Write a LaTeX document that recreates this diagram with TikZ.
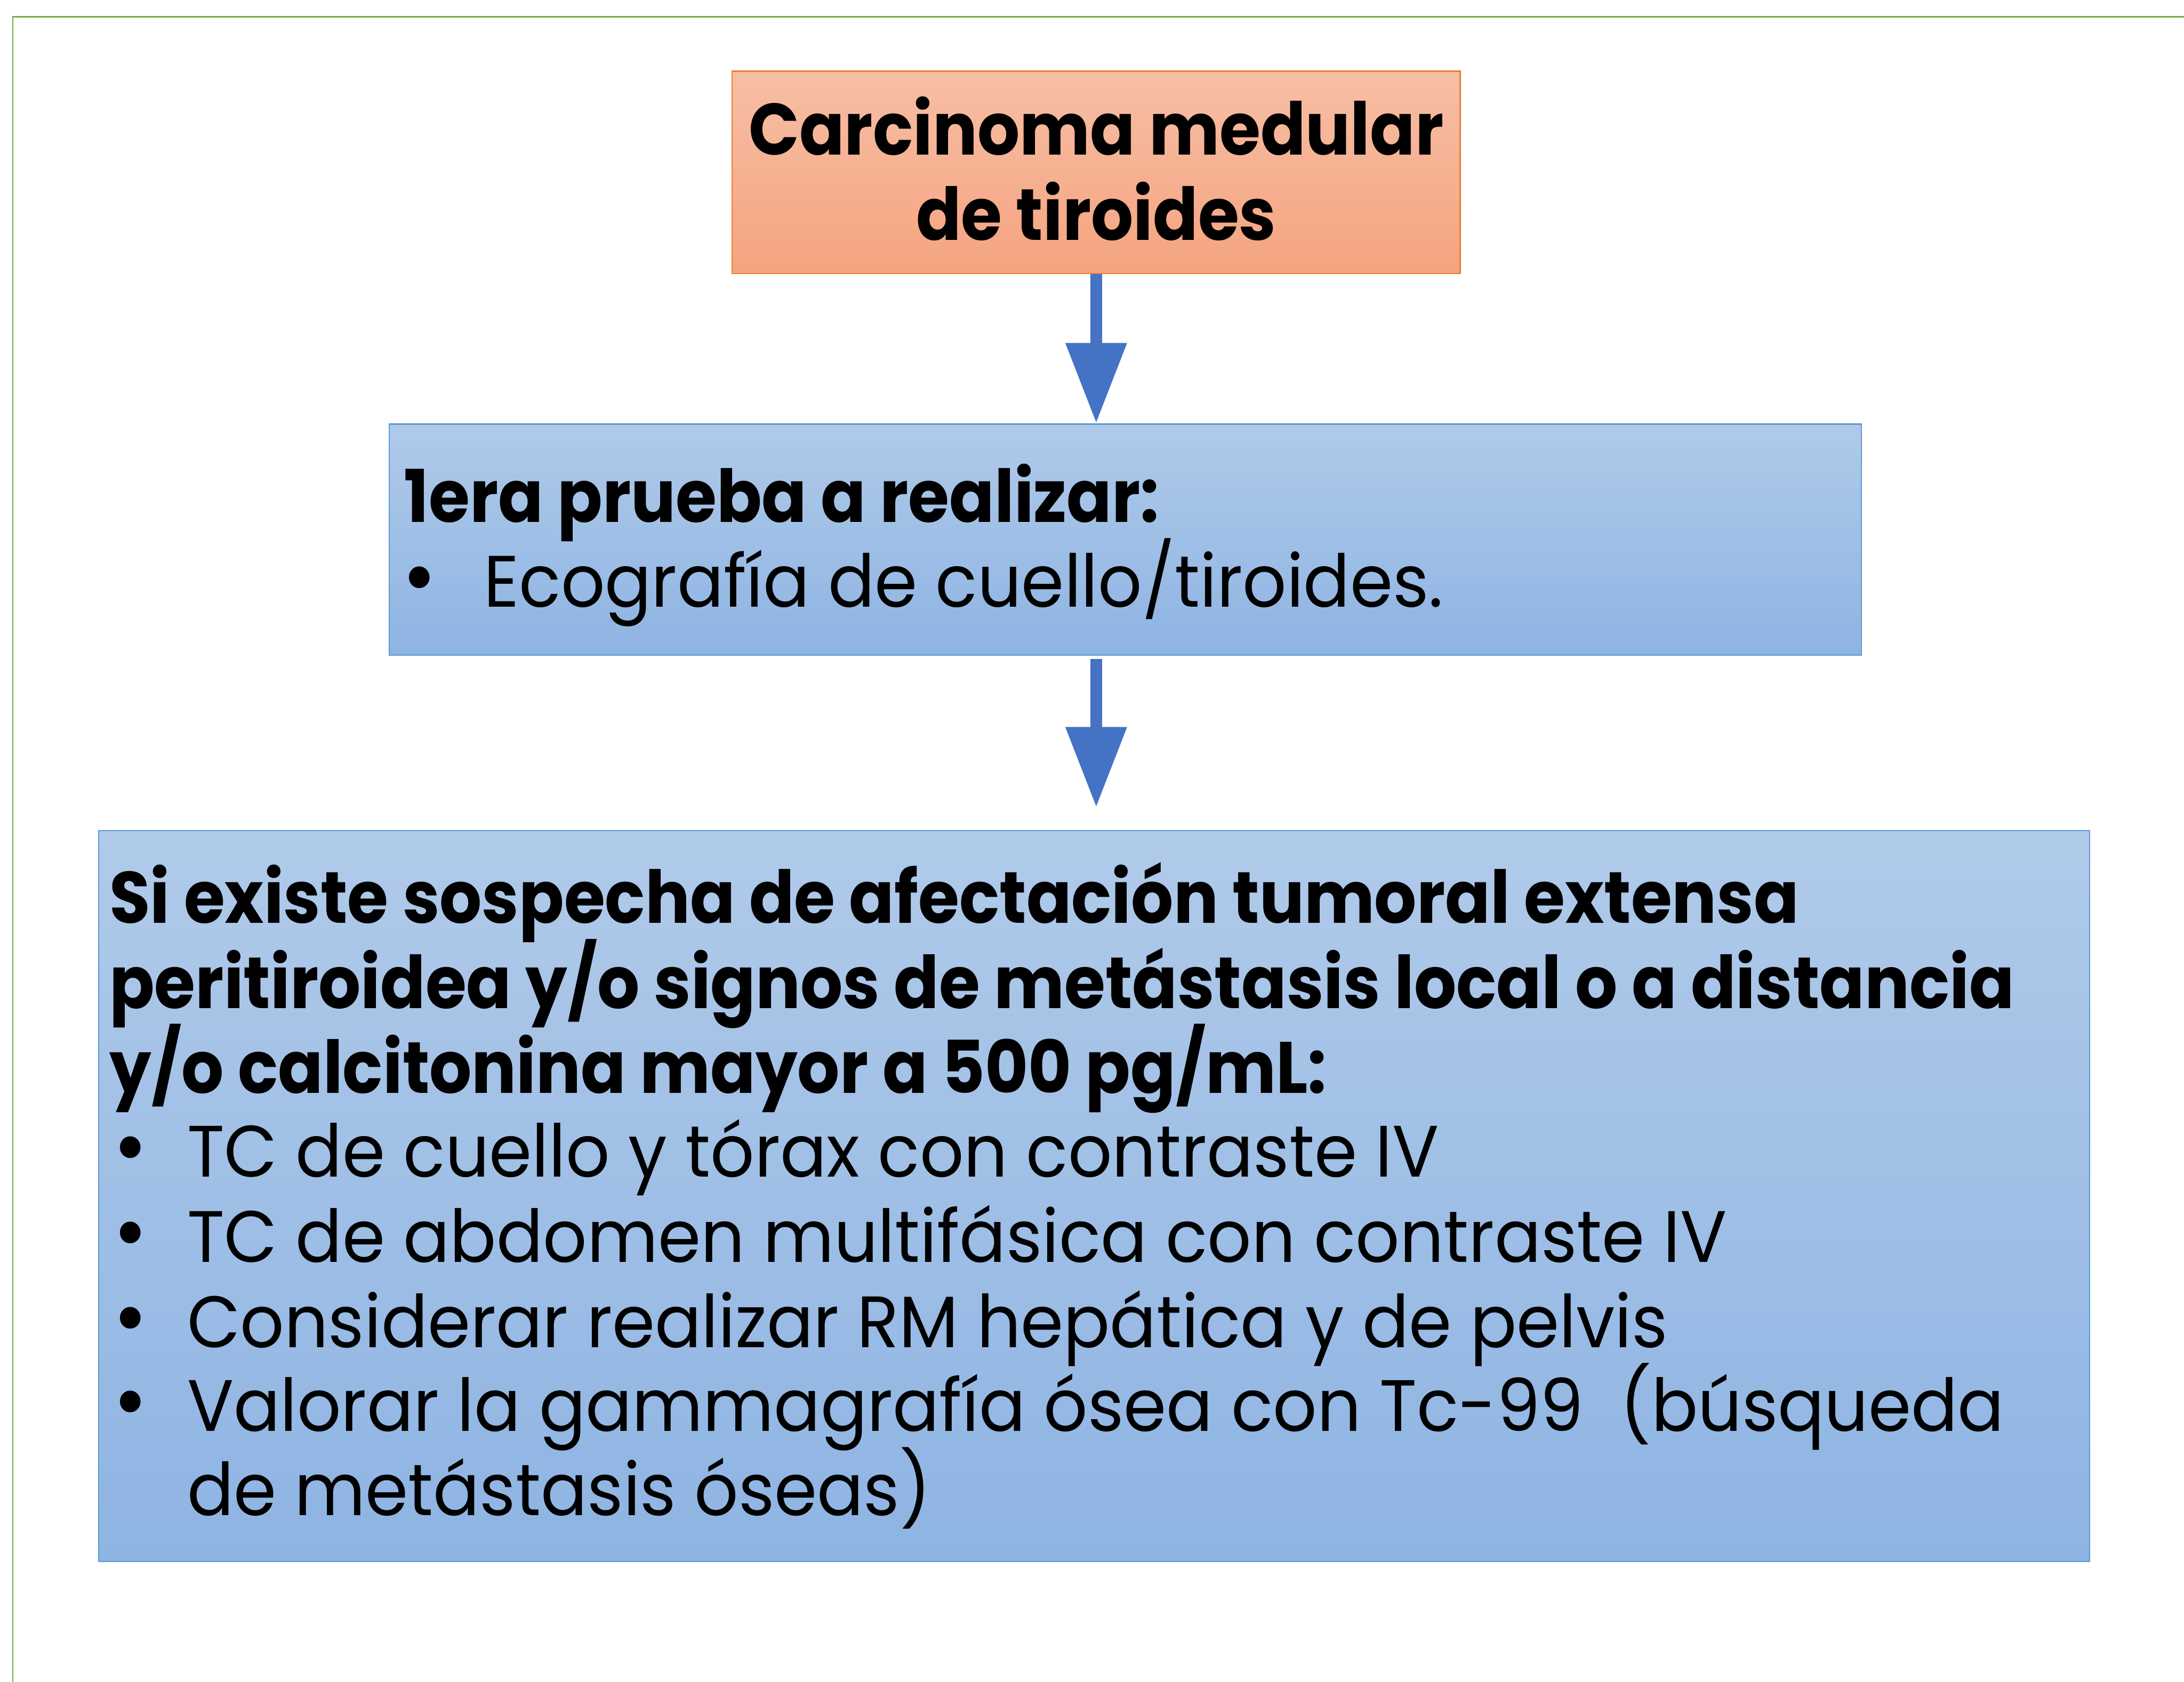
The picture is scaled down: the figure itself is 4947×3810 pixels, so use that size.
\documentclass[tikz,border=0pt]{standalone}
\usepackage{fontspec}
\setmainfont{Poppins}[FakeStretch=0.945, BoldFeatures={FakeStretch=0.912}]
\usetikzlibrary{arrows.meta}
\definecolor{grn}{HTML}{70AD47}
\definecolor{orfillA}{HTML}{F7BEA5}
\definecolor{orfillB}{HTML}{F5A47F}
\definecolor{ordraw}{HTML}{ED7D31}
\definecolor{blfillA}{HTML}{B0CAE9}
\definecolor{blfillB}{HTML}{8EB4E3}
\definecolor{bldraw}{HTML}{5B9BD5}
\definecolor{arrowblue}{HTML}{4472C4}
\begin{document}
\begin{tikzpicture}[x=0.1pt,y=-0.1pt,
  txt/.style={inner sep=0pt, anchor=base west, font=\fontsize{16.5}{19.2}\selectfont},
  btxt/.style={txt, font=\fontsize{16.5}{19.2}\selectfont\bfseries},
  ctxt/.style={btxt, anchor=base},
  bul/.style={inner sep=0pt, anchor=base, font=\fontsize{20}{20}\selectfont},
  obox/.style={rectangle, draw=ordraw, line width=0.3pt, top color=orfillA, bottom color=orfillB, inner sep=0pt, anchor=north west},
  bbox/.style={rectangle, draw=bldraw, line width=0.3pt, top color=blfillA, bottom color=blfillB, inner sep=0pt, anchor=north west},
  arr/.style={draw=arrowblue, line width=2.7pt, -{Triangle[width=13.2pt,length=18.2pt]}},
  frame/.style={draw=grn, line width=0.3pt}]
\useasboundingbox (0,0) rectangle (4947,3810);
% frame lines
\coordinate (fa) at (29,3810);
\coordinate (fb) at (29,38);
\coordinate (fc) at (4947,38);
\draw[frame] (fa) -- (fb) -- (fc);
% boxes
\node[obox, minimum width=164.9pt, minimum height=45.8pt] (top) at (1657,160) {};
\node[bbox, minimum width=333.5pt, minimum height=52.4pt] (b1) at (880,959) {};
\node[bbox, minimum width=451pt, minimum height=165.6pt] (b2) at (222,1880) {};
% arrows
\draw[arr] (top.south) -- (top.south |- b1.north);
\draw[arr] ([yshift=-0.7pt]top.south |- b1.south) -- ([yshift=5.1pt]top.south |- b2.north);
% orange text
\node[ctxt] (t1) at (2483,351) {Carcinoma medular};
\node[ctxt] (t2) at (2483,544) {de tiroides};
% box 1 text
\node[btxt] (p1) at (913,1183) {1era prueba a realizar:};
\node[bul] (p2b) at (950,1375) {•};
\node[txt] (p2) at (1094,1375) {Ecografía de cuello/tiroides.};
% box 2 text
\node[btxt] (s1) at (246,2091) {Si existe sospecha de afectación tumoral extensa};
\node[btxt] (s2) at (246,2284) {peritiroidea y/o signos de metástasis local o a distancia};
\node[btxt] (s3) at (246,2477) {y/o calcitonina mayor a 500 pg/mL:};
\node[bul] (s4b) at (295,2666) {•};
\node[txt] (s4) at (422,2666) {TC de cuello y tórax con contraste IV};
\node[bul] (s5b) at (295,2859) {•};
\node[txt] (s5) at (422,2859) {TC de abdomen multifásica con contraste IV};
\node[bul] (s6b) at (295,3052) {•};
\node[txt] (s6) at (422,3052) {Considerar realizar RM hepática y de pelvis};
\node[bul] (s7b) at (295,3242) {•};
\node[txt] (s7) at (422,3242) {Valorar la gammagrafía ósea con Tc-99\ \ (búsqueda};
\node[txt] (s8) at (422,3433) {de metástasis óseas)};
\end{tikzpicture}
\end{document}
